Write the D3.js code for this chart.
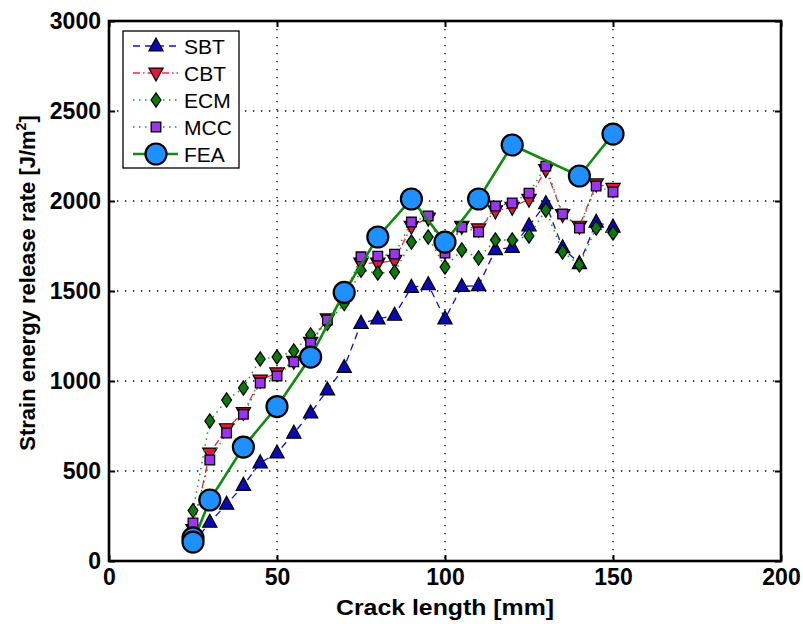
<!DOCTYPE html>
<html><head><meta charset="utf-8">
<script src="https://cdn.jsdelivr.net/npm/d3@7"></script>
<style>body{margin:0;background:#fff}svg{display:block}</style>
</head><body>
<svg id="c" width="803" height="624"></svg>
<script>
const crack = [25,30,35,40,45,50,55,60,65,70,75,80,85,90,95,100,105,110,115,120,125,130,135,140,145,150];
const SBT = [95,215,315,420,545,600,710,822,950,1075,1320,1345,1365,1520,1535,1345,1525,1530,1730,1742,1862,1985,1740,1652,1882,1855];
const CBT = [175,600,735,825,1005,1045,1110,1215,1345,1470,1655,1655,1670,1860,1905,1720,1860,1845,1945,1965,2010,2175,1925,1860,2095,2070];
const ECM = [280,778,894,961,1122,1133,1167,1256,1320,1430,1615,1600,1605,1772,1800,1633,1728,1683,1783,1783,1806,1950,1717,1645,1850,1822];
const MCC = [211,561,711,815,989,1028,1106,1211,1339,1470,1690,1694,1705,1883,1917,1711,1855,1828,1972,1989,2044,2194,1928,1850,2083,2050];
const feaCrack = [25,25,30,40,50,60,70,80,90,100,110,120,140,150];
const FEA = [128,105,339,633,858,1133,1492,1800,2011,1772,2011,2311,2139,2372];
const xTicks = [0,50,100,150,200];
const yTicks = [0,500,1000,1500,2000,2500,3000];
const legendNames = ["SBT","CBT","ECM","MCC","FEA"];

const L=109,R=781,T=21,B=561;
const svg=d3.select("#c");
const x=d3.scaleLinear().domain([0,200]).range([L,R]);
const y=d3.scaleLinear().domain([0,3000]).range([B,T]);
const font="'Liberation Sans', Arial, sans-serif";

// grid
const g=svg.append("g");
g.selectAll(".gx").data(xTicks.slice(1,-1)).enter().append("line")
 .attr("x1",d=>x(d)).attr("x2",d=>x(d)).attr("y1",T).attr("y2",B)
 .attr("stroke","#000").attr("stroke-width",1.3).attr("stroke-dasharray","1.3,6.7");
g.selectAll(".gy").data(yTicks.slice(1,-1)).enter().append("line")
 .attr("y1",d=>y(d)).attr("y2",d=>y(d)).attr("x1",L).attr("x2",R)
 .attr("stroke","#000").attr("stroke-width",1.3).attr("stroke-dasharray","1.3,6.7");

// marker shapes
const shapes={
 up:(s)=>`M0,${-s*0.62}L${s*0.55},${s*0.38}L${-s*0.55},${s*0.38}Z`,
 down:(s)=>`M0,${s*0.62}L${s*0.55},${-s*0.38}L${-s*0.55},${-s*0.38}Z`,
 diamond:(s)=>`M0,${-s*0.55}L${s*0.38},0L0,${s*0.55}L${-s*0.38},0Z`,
 square:(s)=>`M${-s*0.4},${-s*0.4}H${s*0.4}V${s*0.4}H${-s*0.4}Z`,
 circle:(s)=>`M${s/2},0A${s/2},${s/2} 0 1,1 ${-s/2},0A${s/2},${s/2} 0 1,1 ${s/2},0Z`
};
const series=[
 {name:"SBT",xs:crack,ys:SBT,line:"#1010d0",lw:1.3,dash:"7,5",shape:"up",size:13,fill:"#0a0ab4",sw:1.2},
 {name:"CBT",xs:crack,ys:CBT,line:"#e8284c",lw:1.3,dash:"7,3,1.5,3",shape:"down",size:13,fill:"#dc1a3c",sw:1.2},
 {name:"ECM",xs:crack,ys:ECM,line:"#1a9a1a",lw:1.5,dash:"1.5,4.5",shape:"diamond",size:24,fill:"#0b7a0b",sw:1.2},
 {name:"MCC",xs:crack,ys:MCC,line:"#1a9a1a",lw:1.5,dash:"1.5,4.5",shape:"square",size:12,fill:"#9b35f0",sw:1.3},
 {name:"FEA",xs:feaCrack,ys:FEA,line:"#108a10",lw:2.6,dash:null,shape:"circle",size:21,fill:"#1e90ff",sw:2.2}
];
series[2].size=13;
const line=d3.line().x(d=>x(d[0])).y(d=>y(d[1]));
series.forEach(s=>{
 const pts=s.xs.map((v,i)=>[v,s.ys[i]]);
 const p=svg.append("path").attr("d",line(pts)).attr("fill","none")
  .attr("stroke",s.line).attr("stroke-width",s.lw);
 if(s.dash)p.attr("stroke-dasharray",s.dash);
 svg.append("g").selectAll("path").data(pts).enter().append("path")
  .attr("transform",d=>`translate(${x(d[0])},${y(d[1])})`)
  .attr("d",shapes[s.shape](s.size)).attr("fill",s.fill)
  .attr("stroke","#000").attr("stroke-width",s.sw);
});

// axes box
svg.append("rect").attr("x",L).attr("y",T).attr("width",R-L).attr("height",B-T)
 .attr("fill","none").attr("stroke","#000").attr("stroke-width",2.6);
const ax=svg.append("g").attr("transform",`translate(0,${B})`)
 .call(d3.axisBottom(x).tickValues(xTicks).tickSize(-6).tickPadding(10).tickFormat(d3.format("d")));
const axT=svg.append("g").attr("transform",`translate(0,${T})`)
 .call(d3.axisTop(x).tickValues(xTicks).tickSize(-6).tickFormat(""));
const ay=svg.append("g").attr("transform",`translate(${L},0)`)
 .call(d3.axisLeft(y).tickValues(yTicks).tickSize(-6).tickPadding(8).tickFormat(d3.format("d")));
const ayR=svg.append("g").attr("transform",`translate(${R},0)`)
 .call(d3.axisRight(y).tickValues(yTicks).tickSize(-6).tickFormat(""));
[ax,axT,ay,ayR].forEach(a=>{
 a.select(".domain").remove();
 a.selectAll("line").attr("stroke","#000").attr("stroke-width",2);
 a.selectAll("text").attr("font-family",font).attr("font-weight","bold").attr("font-size",23).attr("fill","#000");
});
ax.selectAll("text").attr("dy","0.6em");

// axis titles
svg.append("text").attr("x",(L+R)/2).attr("y",615).attr("text-anchor","middle")
 .attr("font-family",font).attr("font-weight","bold").attr("font-size",22)
 .attr("textLength",218).attr("lengthAdjust","spacingAndGlyphs").text("Crack length [mm]");
const yl=svg.append("text").attr("transform",`translate(35,${(T+B)/2-8}) rotate(-90)`).attr("text-anchor","middle")
 .attr("font-family",font).attr("font-weight","bold").attr("font-size",22);
yl.append("tspan").text("Strain energy release rate [J/m");
yl.append("tspan").attr("font-size",14).attr("dy",-9).text("2");
yl.append("tspan").attr("dy",9).text("]");

// legend
const lg=svg.append("g");
lg.append("rect").attr("x",123).attr("y",31).attr("width",116).attr("height",137)
 .attr("fill","#fff").attr("stroke","#000").attr("stroke-width",1.3);
series.forEach((s,i)=>{
 const yy=46+i*27;
 const l=lg.append("line").attr("x1",133).attr("x2",178).attr("y1",yy).attr("y2",yy)
  .attr("stroke",s.line).attr("stroke-width",s.lw);
 if(s.dash)l.attr("stroke-dasharray",s.dash);
 lg.append("path").attr("transform",`translate(156,${yy})`).attr("d",shapes[s.shape](s.size))
  .attr("fill",s.fill).attr("stroke","#000").attr("stroke-width",s.sw);
 lg.append("text").attr("x",184).attr("y",yy).attr("dy","0.36em").attr("font-family",font)
  .attr("font-size",21).text(legendNames[i]);
});
</script>
</body></html>
